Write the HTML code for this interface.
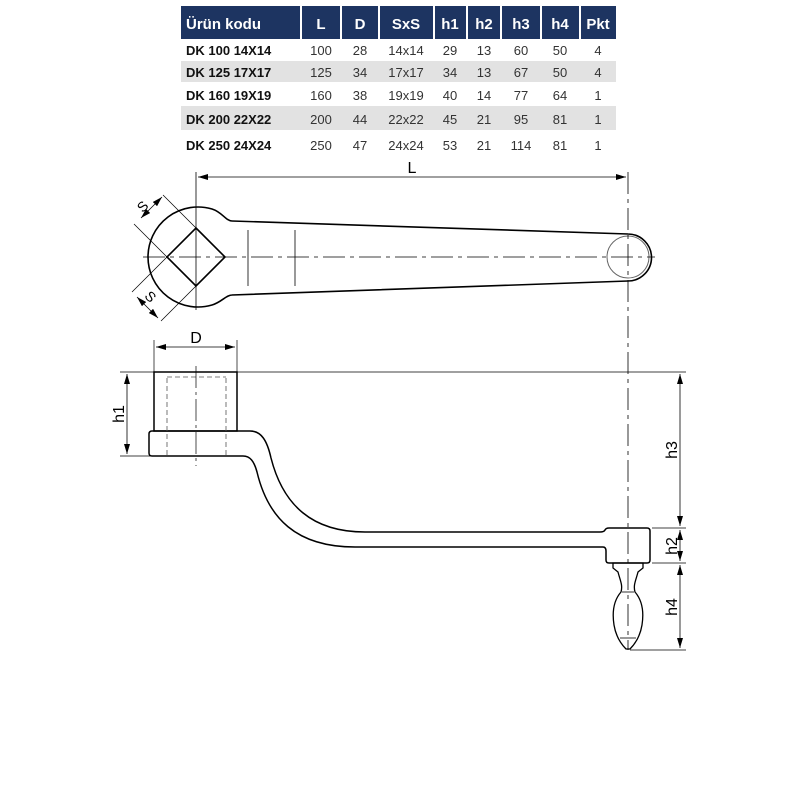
<!DOCTYPE html>
<html><head><meta charset="utf-8"><style>
body{margin:0;background:#fff;width:800px;height:800px;overflow:hidden}
svg{display:block}
text{font-family:"Liberation Sans",sans-serif}
</style></head><body>
<svg width="800" height="800" viewBox="0 0 800 800" xmlns="http://www.w3.org/2000/svg">
<defs>
<marker id="a" viewBox="0 0 10 6" refX="10" refY="3" markerWidth="10" markerHeight="6" orient="auto-start-reverse" markerUnits="userSpaceOnUse"><path d="M0,0L10,3L0,6z" fill="#000"/></marker>
</defs>
<!-- table -->
<g>
<rect x="181" y="6" width="435" height="33" fill="#1d3461"/>
<g stroke="#fff" stroke-width="2">
<line x1="301" y1="6" x2="301" y2="39"/><line x1="341" y1="6" x2="341" y2="39"/><line x1="379" y1="6" x2="379" y2="39"/><line x1="434" y1="6" x2="434" y2="39"/><line x1="467" y1="6" x2="467" y2="39"/><line x1="501" y1="6" x2="501" y2="39"/><line x1="541" y1="6" x2="541" y2="39"/><line x1="580" y1="6" x2="580" y2="39"/>
</g>
<rect x="181" y="61" width="435" height="21" fill="#e2e2e2"/>
<rect x="181" y="106" width="435" height="24" fill="#e2e2e2"/>
<g fill="#fff" font-weight="bold" font-size="15">
<text x="186" y="29">Ürün kodu</text>
<text x="321" y="29" text-anchor="middle">L</text>
<text x="360" y="29" text-anchor="middle">D</text>
<text x="406" y="29" text-anchor="middle">SxS</text>
<text x="450" y="29" text-anchor="middle">h1</text>
<text x="484" y="29" text-anchor="middle">h2</text>
<text x="521" y="29" text-anchor="middle">h3</text>
<text x="560" y="29" text-anchor="middle">h4</text>
<text x="598" y="29" text-anchor="middle">Pkt</text>
</g>
<g font-size="13" fill="#333" text-anchor="middle">
<g transform="translate(0,55)"><text x="186" text-anchor="start" font-weight="bold" fill="#111">DK 100 14X14</text><text x="321">100</text><text x="360">28</text><text x="406">14x14</text><text x="450">29</text><text x="484">13</text><text x="521">60</text><text x="560">50</text><text x="598">4</text></g>
<g transform="translate(0,77)"><text x="186" text-anchor="start" font-weight="bold" fill="#111">DK 125 17X17</text><text x="321">125</text><text x="360">34</text><text x="406">17x17</text><text x="450">34</text><text x="484">13</text><text x="521">67</text><text x="560">50</text><text x="598">4</text></g>
<g transform="translate(0,100)"><text x="186" text-anchor="start" font-weight="bold" fill="#111">DK 160 19X19</text><text x="321">160</text><text x="360">38</text><text x="406">19x19</text><text x="450">40</text><text x="484">14</text><text x="521">77</text><text x="560">64</text><text x="598">1</text></g>
<g transform="translate(0,124)"><text x="186" text-anchor="start" font-weight="bold" fill="#111">DK 200 22X22</text><text x="321">200</text><text x="360">44</text><text x="406">22x22</text><text x="450">45</text><text x="484">21</text><text x="521">95</text><text x="560">81</text><text x="598">1</text></g>
<g transform="translate(0,150)"><text x="186" text-anchor="start" font-weight="bold" fill="#111">DK 250 24X24</text><text x="321">250</text><text x="360">47</text><text x="406">24x24</text><text x="450">53</text><text x="484">21</text><text x="521">114</text><text x="560">81</text><text x="598">1</text></g>
</g>
</g>

<!-- top view -->
<g fill="none" stroke="#000">
<line x1="196" y1="172" x2="196" y2="310" stroke-width="0.8"/>
<line x1="198" y1="177" x2="626" y2="177" stroke-width="0.8" marker-start="url(#a)" marker-end="url(#a)"/>
<text x="412" y="173" font-size="16" fill="#000" stroke="none" text-anchor="middle">L</text>
<path d="M232 221 C226 221 222 212 212 209 A50 50 0 1 0 212 305 C222 302 226 295 232 295 L628 281 A22 22 0 0 0 628 234 Z" stroke-width="1.6"/>
<circle cx="628" cy="257" r="21" stroke-width="1" stroke="#666"/>
<path d="M196 228 L225 257 L196 286 L167 257 Z" stroke-width="1.6"/>
<line x1="143" y1="257" x2="655" y2="257" stroke-width="0.8" stroke-dasharray="22 5 4 5"/>
<line x1="248" y1="230" x2="248" y2="286" stroke-width="0.8"/>
<line x1="295" y1="230" x2="295" y2="286" stroke-width="0.8"/>
<line x1="628" y1="172" x2="628" y2="650" stroke-width="0.8" stroke-dasharray="22 5 4 5"/>
<!-- S dims -->
<line x1="167" y1="257" x2="134" y2="224" stroke-width="0.7"/>
<line x1="196" y1="228" x2="163" y2="195" stroke-width="0.7"/>
<line x1="141" y1="218" x2="162" y2="197" stroke-width="0.8" marker-start="url(#a)" marker-end="url(#a)"/>
<line x1="167" y1="257" x2="132" y2="292" stroke-width="0.7"/>
<line x1="196" y1="286" x2="161" y2="321" stroke-width="0.7"/>
<line x1="137" y1="297" x2="158" y2="318" stroke-width="0.8" marker-start="url(#a)" marker-end="url(#a)"/>
</g>
<text x="0" y="0" font-size="14" transform="translate(146,210) rotate(-45)" text-anchor="middle">S</text>
<text x="0" y="0" font-size="14" transform="translate(147,300) rotate(45)" text-anchor="middle">S</text>

<!-- side view -->
<g fill="none" stroke="#000">
<line x1="154" y1="340" x2="154" y2="372" stroke-width="0.7"/>
<line x1="237" y1="340" x2="237" y2="372" stroke-width="0.7"/>
<line x1="156" y1="347" x2="235" y2="347" stroke-width="0.8" marker-start="url(#a)" marker-end="url(#a)"/>
<line x1="120" y1="372" x2="686" y2="372" stroke-width="0.8"/>
<line x1="120" y1="456" x2="150" y2="456" stroke-width="0.7"/>
<line x1="127" y1="374" x2="127" y2="454" stroke-width="0.8" marker-start="url(#a)" marker-end="url(#a)"/>
<rect x="154" y="372" width="83" height="59" stroke-width="1.5"/>
<path d="M237 431 L152 431 Q149 431 149 434 L149 453 Q149 456 152 456 L243 456 C250 456 254 461 257 472 C268 518 296 547 355 547 L603 547 Q606 547 606 551 L606 560 Q606 563 609 563 L647 563 Q650 563 650 560 L650 531 Q650 528 647 528 L609 528 Q606 528 605 530 Q604 532 600 532 L365 532 C312 532 283 505 271 458 C267 440 261 431 250 431 Z" stroke-width="1.5"/>
<g stroke-dasharray="5 3" stroke-width="0.8" stroke="#555">
<line x1="167" y1="378" x2="167" y2="456"/><line x1="226" y1="378" x2="226" y2="456"/>
<line x1="167" y1="377" x2="226" y2="377"/>
</g>
<line x1="196" y1="366" x2="196" y2="466" stroke-width="0.7" stroke-dasharray="22 4 3 4"/>
<!-- knob -->
<path d="M613 563 L643 563 L643 568 L638 572 C636 580 633 585 635 592 C642 600 644 612 642 625 C640 637 634 645 630 649 L626 649 C622 645 616 637 614 625 C612 612 614 600 621 592 C623 585 620 580 618 572 L613 568 Z" stroke-width="1.3"/>
<line x1="622" y1="592" x2="634" y2="592" stroke-width="0.8"/><line x1="620" y1="638" x2="636" y2="638" stroke-width="0.8"/>
<!-- right dims -->
<line x1="652" y1="528" x2="686" y2="528" stroke-width="0.7"/>
<line x1="652" y1="563" x2="686" y2="563" stroke-width="0.7"/>
<line x1="630" y1="650" x2="686" y2="650" stroke-width="0.7"/>
<line x1="680" y1="374" x2="680" y2="526" stroke-width="0.8" marker-start="url(#a)" marker-end="url(#a)"/>
<line x1="680" y1="530" x2="680" y2="561" stroke-width="0.8" marker-start="url(#a)" marker-end="url(#a)"/>
<line x1="680" y1="565" x2="680" y2="648" stroke-width="0.8" marker-start="url(#a)" marker-end="url(#a)"/>
</g>
<g font-size="16">
<text x="196" y="343" text-anchor="middle">D</text>
<text transform="translate(124,414) rotate(-90)" text-anchor="middle">h1</text>
<text transform="translate(677,450) rotate(-90)" text-anchor="middle">h3</text>
<text transform="translate(677,546) rotate(-90)" text-anchor="middle">h2</text>
<text transform="translate(677,607) rotate(-90)" text-anchor="middle">h4</text>
</g>
</svg>
</body></html>
